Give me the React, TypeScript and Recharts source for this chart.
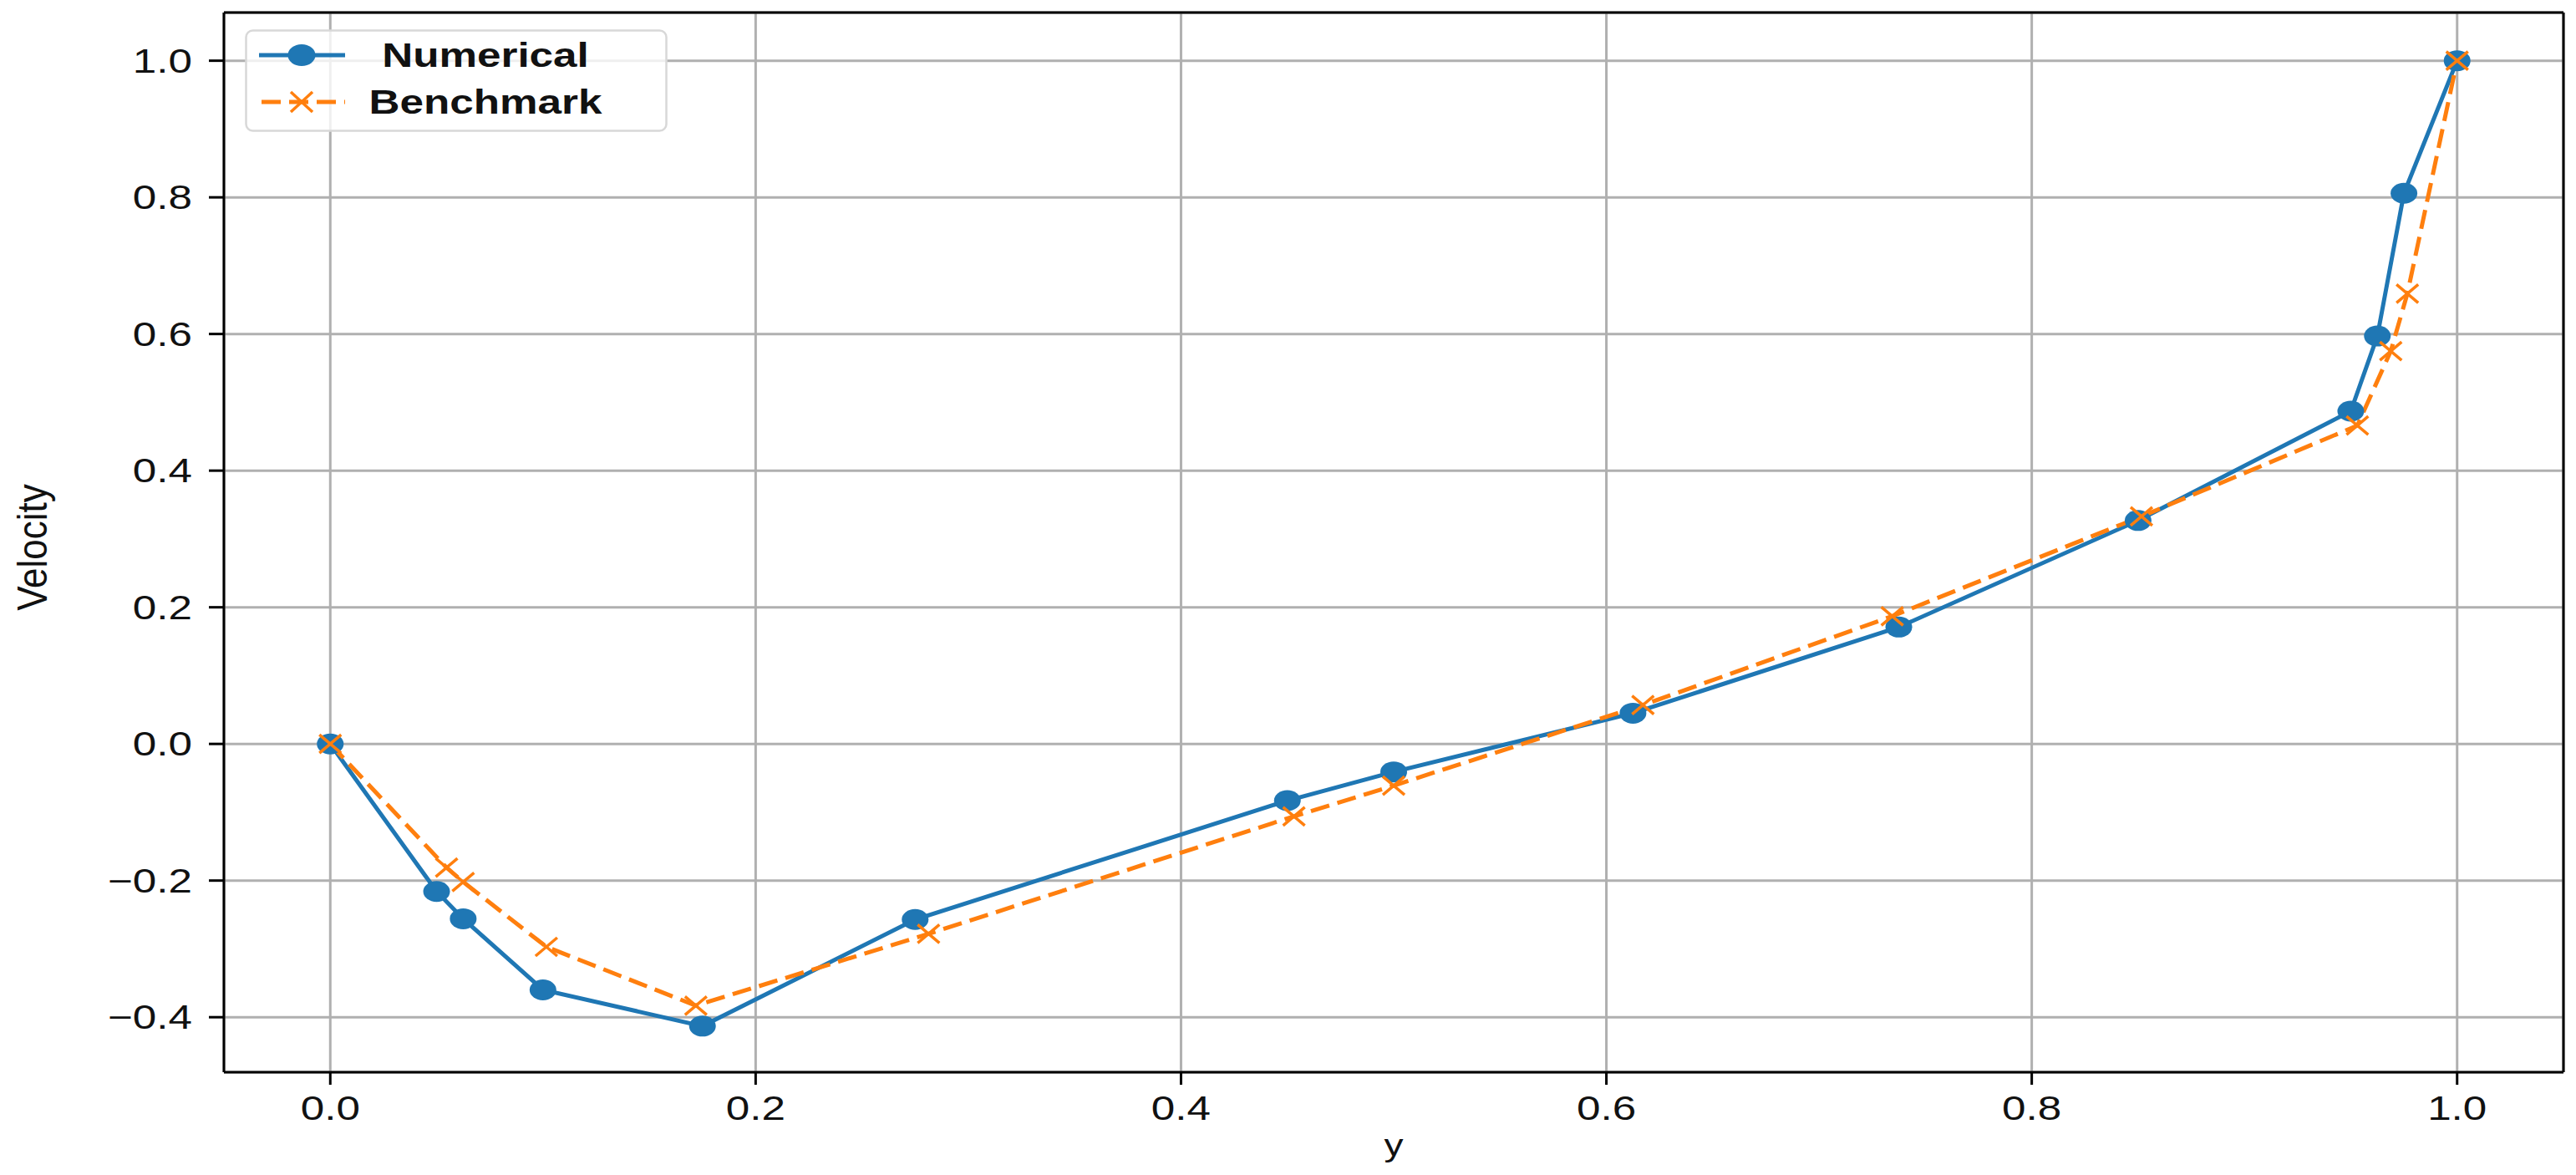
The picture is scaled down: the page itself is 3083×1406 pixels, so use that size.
import { CartesianGrid, Legend, Line, LineChart, ReferenceLine, XAxis, YAxis } from 'recharts';

// grid positions along the vertical centre line
const numericalX = [0, 0.05, 0.0625, 0.1, 0.175, 0.275, 0.45, 0.5, 0.6125, 0.7375, 0.85, 0.95, 0.9625, 0.975, 1.0];
const numericalY = [0, -0.216, -0.256, -0.36, -0.413, -0.257, -0.083, -0.041, 0.045, 0.171, 0.327, 0.487, 0.597, 0.806, 1.0];

const benchmarkX = [0, 0.0547, 0.0625, 0.1016, 0.1719, 0.2813, 0.4531, 0.5, 0.6172, 0.7344, 0.8516, 0.9531, 0.9688, 0.9766, 1.0];
const benchmarkY = [0, -0.181, -0.202, -0.297, -0.383, -0.278, -0.106, -0.061, 0.057, 0.187, 0.333, 0.466, 0.575, 0.659, 1.0];

const xTicks = [0, 0.2, 0.4, 0.6, 0.8, 1.0];
const yTicks = [-0.4, -0.2, 0, 0.2, 0.4, 0.6, 0.8, 1.0];
const seriesNames = ['Numerical', 'Benchmark'];

const numerical = numericalX.map((x, i) => ({ x, v: numericalY[i] }));
const benchmark = benchmarkX.map((x, i) => ({ x, v: benchmarkY[i] }));

const BLUE = '#1f77b4';
const ORANGE = '#ff7f0e';
const FONT = '"Liberation Sans", Arial, sans-serif';
const STRETCH = 1.28; // the source picture is stretched sideways
const X_DOMAIN: [number, number] = [-0.05, 1.05];
const Y_DOMAIN: [number, number] = [-0.4805, 1.0705];

const fmt = (v: number) => {
  const s = Math.abs(v).toFixed(1);
  return v < -1e-9 ? `\u2212${s}` : s;
};

function XTick({ x, y, payload }: any) {
  return (
    <g transform={`translate(${x},${y + 40})`}>
      <text transform={`scale(${STRETCH},1)`} textAnchor="middle" fontSize={40} fill="#111" fontFamily={FONT}>
        {fmt(payload.value)}
      </text>
    </g>
  );
}

function YTick({ x, y, payload }: any) {
  return (
    <g transform={`translate(${x},${y + 14})`}>
      <text transform={`scale(${STRETCH},1)`} textAnchor="end" fontSize={40} fill="#111" fontFamily={FONT}>
        {fmt(payload.value)}
      </text>
    </g>
  );
}

function Circle({ cx, cy, index }: any) {
  return <ellipse key={`c${index}`} cx={cx} cy={cy} rx={16} ry={12.5} fill={BLUE} />;
}

function Cross({ cx, cy, index }: any) {
  return (
    <g key={`x${index}`} stroke={ORANGE} strokeWidth={3.5}>
      <line x1={cx - 13} y1={cy - 11} x2={cx + 13} y2={cy + 11} />
      <line x1={cx - 13} y1={cy + 11} x2={cx + 13} y2={cy - 11} />
    </g>
  );
}

function LegendBox() {
  return (
    <svg width={506} height={123} style={{ display: 'block' }}>
      <rect x={1.5} y={1.5} width={503} height={120} rx={8} fill="rgba(255,255,255,0.8)" stroke="#d8d8d8" strokeWidth={2.5} />
      <line x1={17} y1={31} x2={120} y2={31} stroke={BLUE} strokeWidth={5} />
      <ellipse cx={68} cy={31} rx={16.5} ry={13} fill={BLUE} />
      <line x1={20} y1={87} x2={120} y2={87} stroke={ORANGE} strokeWidth={5} strokeDasharray="23 10" />
      <g stroke={ORANGE} strokeWidth={3.5}>
        <line x1={55} y1={75} x2={81} y2={99} />
        <line x1={55} y1={99} x2={81} y2={75} />
      </g>
      {seriesNames.map((name, i) => (
        <text
          key={name}
          transform={`translate(288,${45 + i * 56}) scale(${STRETCH},1)`}
          textAnchor="middle"
          fontSize={40}
          fontWeight="bold"
          fill="#111"
          fontFamily={FONT}
        >
          {name}
        </text>
      ))}
    </svg>
  );
}

export default function App() {
  return (
    <div style={{ width: 3083, height: 1406, background: '#fff' }}>
      <style>{'body{margin:0}'}</style>
      <LineChart width={3083} height={1406} margin={{ top: 15, right: 15, bottom: 0, left: 0 }}>
        <CartesianGrid stroke="#b0b0b0" strokeWidth={3} />
        <XAxis
          dataKey="x"
          type="number"
          domain={X_DOMAIN}
          ticks={xTicks}
          allowDataOverflow
          height={123}
          tickSize={15}
          tickMargin={2}
          tick={<XTick />}
          stroke="#000"
          strokeWidth={3}
          tickLine={{ stroke: '#000', strokeWidth: 3 }}
          label={{
            content: ({ viewBox }: any) => (
              <text
                transform={`translate(${viewBox.x + viewBox.width / 2},${viewBox.y + 100}) scale(${STRETCH},1)`}
                textAnchor="middle"
                fontSize={36}
                fill="#111"
                fontFamily={FONT}
              >
                y
              </text>
            ),
          }}
        />
        <YAxis
          type="number"
          domain={Y_DOMAIN}
          ticks={yTicks}
          allowDataOverflow
          width={268}
          tickSize={18}
          tickMargin={20}
          tick={<YTick />}
          stroke="#000"
          strokeWidth={3}
          tickLine={{ stroke: '#000', strokeWidth: 3 }}
          label={{
            content: ({ viewBox }: any) => (
              <text
                transform={`translate(${viewBox.x + 56},${viewBox.y + viewBox.height / 2 + 6}) scale(1.15,1) rotate(-90)`}
                textAnchor="middle"
                fontSize={44}
                fill="#111"
                fontFamily={FONT}
              >
                Velocity
              </text>
            ),
          }}
        />
        <ReferenceLine y={Y_DOMAIN[1]} stroke="#000" strokeWidth={3} />
        <ReferenceLine x={X_DOMAIN[1]} stroke="#000" strokeWidth={3} />
        <Line
          data={numerical}
          dataKey="v"
          name={seriesNames[0]}
          stroke={BLUE}
          strokeWidth={5}
          dot={Circle}
          activeDot={false}
          isAnimationActive={false}
        />
        <Line
          data={benchmark}
          dataKey="v"
          name={seriesNames[1]}
          stroke={ORANGE}
          strokeWidth={5}
          strokeDasharray="23 10"
          dot={Cross}
          activeDot={false}
          isAnimationActive={false}
        />
        <Legend
          layout="horizontal"
          align="center"
          verticalAlign="middle"
          wrapperStyle={{ left: 293, top: 35, width: 506, height: 123 }}
          content={() => <LegendBox />}
        />
      </LineChart>
    </div>
  );
}
